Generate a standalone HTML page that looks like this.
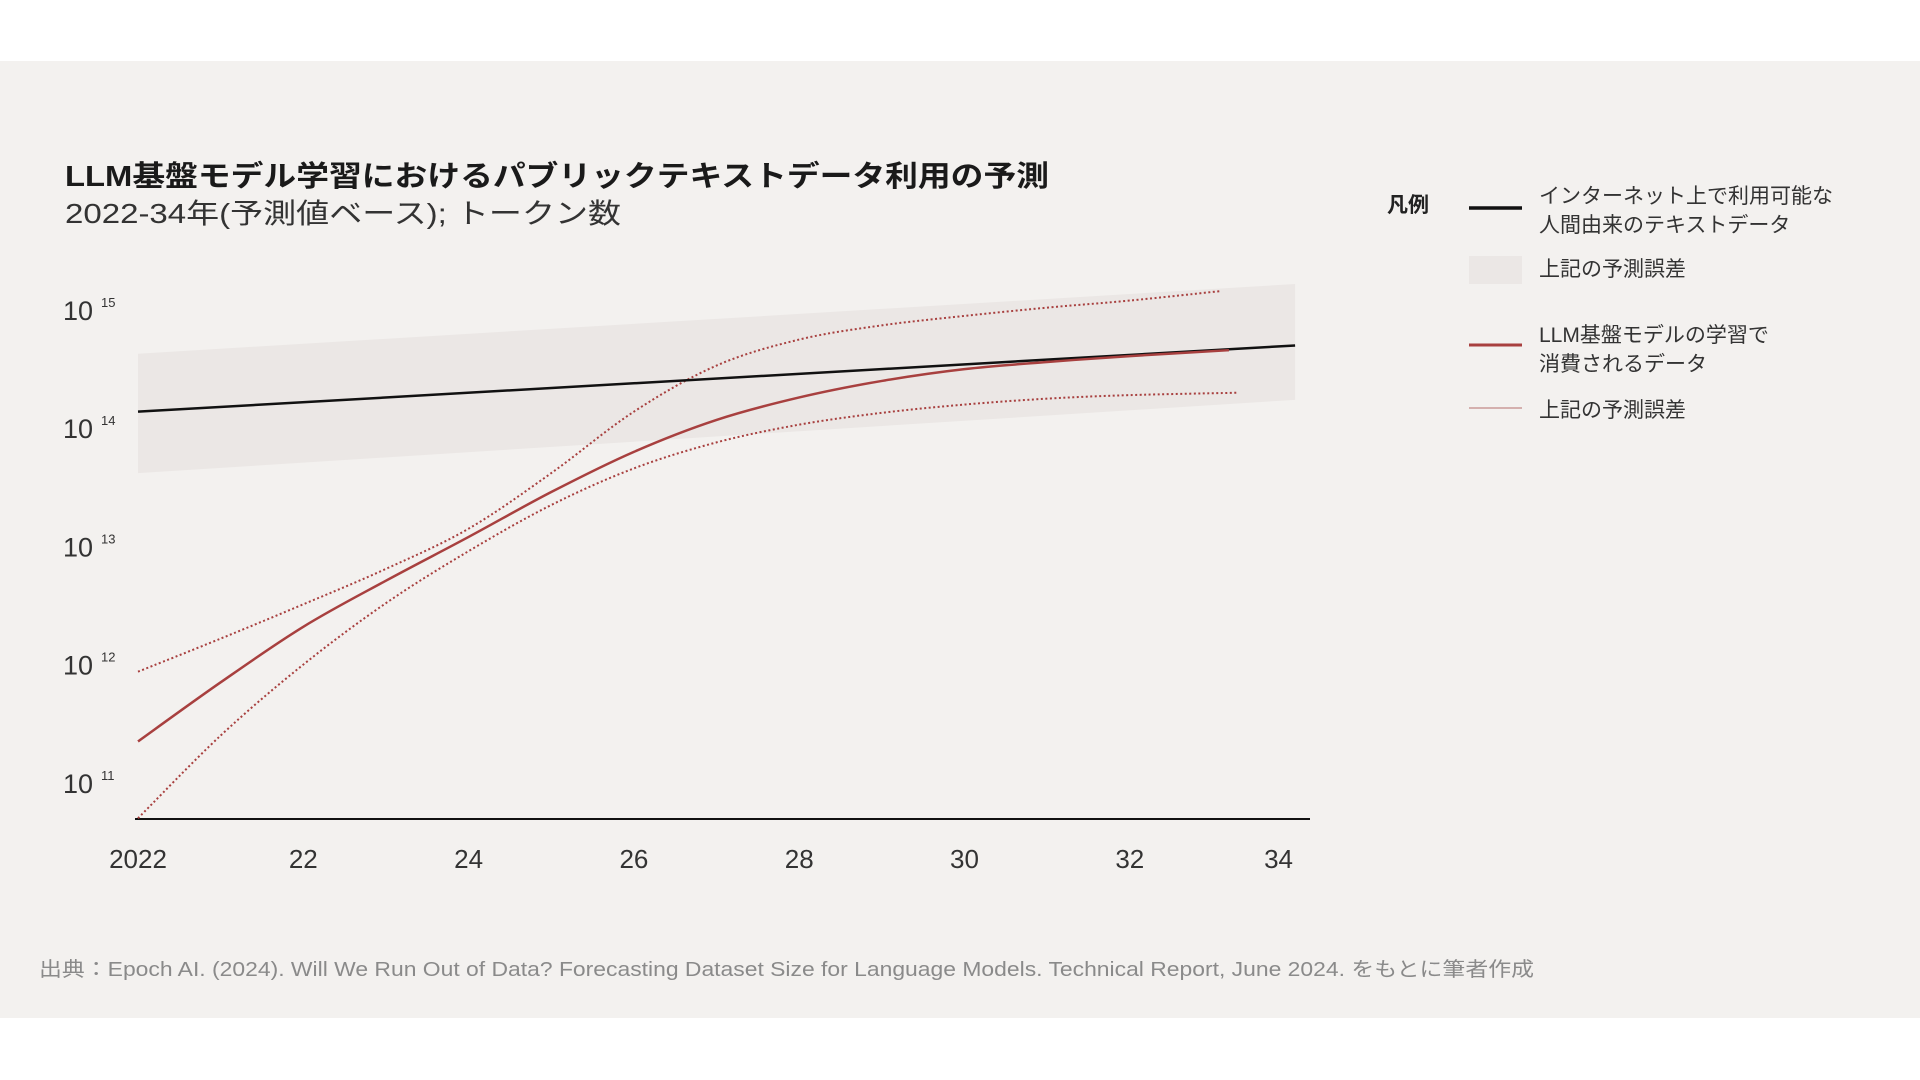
<!DOCTYPE html>
<html><head><meta charset="utf-8"><style>
html,body{margin:0;padding:0;background:#fff;width:1920px;height:1080px;overflow:hidden}
svg{display:block}
text{font-family:"Liberation Sans","Noto Sans CJK JP",sans-serif}
</style></head><body>
<svg id="chart" width="1920" height="1080" viewBox="0 0 1920 1080">
<rect x="0" y="61" width="1920" height="957" fill="#f3f1ef"/>
<text x="65" y="186" font-size="29" font-weight="bold" fill="#1a1a1a" textLength="984" lengthAdjust="spacingAndGlyphs">LLM基盤モデル学習におけるパブリックテキストデータ利用の予測</text>
<text x="65" y="223" font-size="28" fill="#333" textLength="556" lengthAdjust="spacingAndGlyphs">2022-34年(予測値ベース); トークン数</text>
<g id="plot"></g>
<g>
<text x="1387" y="212" font-size="21" font-weight="bold" fill="#222">凡例</text>
<line x1="1469" y1="208" x2="1522" y2="208" stroke="#111" stroke-width="3.5"/>
<text x="1539" y="203" font-size="21" fill="#333"><tspan x="1539">インターネット上で利用可能な</tspan><tspan x="1539" dy="29">人間由来のテキストデータ</tspan></text>
<rect x="1469" y="256" width="53" height="28" fill="#ebe7e5"/>
<text x="1539" y="276" font-size="21" fill="#333">上記の予測誤差</text>
<line x1="1469" y1="345" x2="1522" y2="345" stroke="#a8403f" stroke-width="3"/>
<text x="1539" y="342" font-size="21" fill="#333"><tspan x="1539">LLM基盤モデルの学習で</tspan><tspan x="1539" dy="29">消費されるデータ</tspan></text>
<line x1="1469" y1="408" x2="1522" y2="408" stroke="#c99a98" stroke-width="1.5"/>
<text x="1539" y="417" font-size="21" fill="#333">上記の予測誤差</text>
</g>
<text x="39" y="976" font-size="20" fill="#8a8a8a" textLength="1495" lengthAdjust="spacingAndGlyphs">出典：Epoch AI. (2024). Will We Run Out of Data? Forecasting Dataset Size for Language Models. Technical Report, June 2024. をもとに筆者作成</text>
</svg>
<script>
const yTickExps = [15, 14, 13, 12, 11];
const xTickYears = [2020, 2022, 2024, 2026, 2028, 2030, 2032, 2033.8];
const xTickLabels = ["2022", "22", "24", "26", "28", "30", "32", "34"];
const internetYears = [2020, 2034];
const internetLog = [14.14, 14.70];
const bandYears = [2020, 2034];
const bandUpperLog = [14.63, 15.22];
const bandLowerLog = [13.62, 14.24];
const llmYears = [2020, 2021, 2022, 2023, 2024, 2025, 2026, 2027, 2028, 2029, 2030, 2031, 2032, 2033.2];
const llmLog = [11.35, 11.85, 12.32, 12.71, 13.08, 13.46, 13.80, 14.07, 14.26, 14.40, 14.50, 14.56, 14.61, 14.66];
const upperYears = [2020, 2021, 2022, 2023, 2024, 2025, 2026, 2027, 2028, 2029, 2030, 2031, 2032, 2033.1];
const upperLog = [11.94, 12.22, 12.51, 12.81, 13.15, 13.62, 14.14, 14.53, 14.75, 14.87, 14.95, 15.02, 15.08, 15.16];
const lowerYears = [2020, 2021, 2022, 2023, 2024, 2025, 2026, 2027, 2028, 2029, 2030, 2031, 2032, 2033.3];
const lowerLog = [10.70, 11.40, 12.00, 12.52, 12.96, 13.35, 13.66, 13.88, 14.03, 14.13, 14.20, 14.25, 14.28, 14.30];

const NS = "http://www.w3.org/2000/svg";
function xS(yr){ return 138 + (yr - 2020) * 82.65; }
function yS(v){ return 310 + (15 - v) * 118.2; }
const plot = document.getElementById('plot');
function mk(tag, attrs){ const e=document.createElementNS(NS,tag); for(const k in attrs) e.setAttribute(k, attrs[k]); plot.appendChild(e); return e; }
function smooth(xs, ys){
  const p = xs.map((x,i)=>[xS(x), yS(ys[i])]);
  let d = `M${p[0][0]},${p[0][1]}`;
  for(let i=0;i<p.length-1;i++){
    const p0=p[i-1]||p[i], p1=p[i], p2=p[i+1], p3=p[i+2]||p2;
    const c1=[p1[0]+(p2[0]-p0[0])/6, p1[1]+(p2[1]-p0[1])/6];
    const c2=[p2[0]-(p3[0]-p1[0])/6, p2[1]-(p3[1]-p1[1])/6];
    d += ` C${c1[0]},${c1[1]} ${c2[0]},${c2[1]} ${p2[0]},${p2[1]}`;
  }
  return d;
}
const band = mk('polygon', {points: `${xS(bandYears[0])},${yS(bandUpperLog[0])} ${xS(bandYears[1])},${yS(bandUpperLog[1])} ${xS(bandYears[1])},${yS(bandLowerLog[1])} ${xS(bandYears[0])},${yS(bandLowerLog[0])}`, fill:'#ebe7e5'});


yTickExps.forEach(e=>{
  const t = mk('text', {x:63, y:yS(e)+10, 'font-size':27, fill:'#333'});
  t.textContent = '10';
  
  
  const s = mk('text', {x:101, y:yS(e)-3, 'font-size':13, fill:'#333'});
  s.textContent = String(e);
  
  
});
const ax = mk('line', {x1:135, y1:819, x2:1310, y2:819, stroke:'#111', 'stroke-width':2});


xTickYears.forEach((yr,i)=>{
  const t = mk('text', {x:xS(yr), y:868, 'font-size':26, fill:'#333', 'text-anchor':'middle'});
  t.textContent = xTickLabels[i];
  
  
});
const up = mk('path', {d:smooth(upperYears, upperLog), fill:'none', stroke:'#a8403f', 'stroke-width':2, 'stroke-dasharray':'2 2.5'});


const lo = mk('path', {d:smooth(lowerYears, lowerLog), fill:'none', stroke:'#a8403f', 'stroke-width':2, 'stroke-dasharray':'2 2.5'});


const inet = mk('path', {d:`M${xS(internetYears[0])},${yS(internetLog[0])} L${xS(internetYears[1])},${yS(internetLog[1])}`, fill:'none', stroke:'#111', 'stroke-width':2.5});


const llm = mk('path', {d:smooth(llmYears, llmLog), fill:'none', stroke:'#a8403f', 'stroke-width':2.5});


</script>
</body></html>
